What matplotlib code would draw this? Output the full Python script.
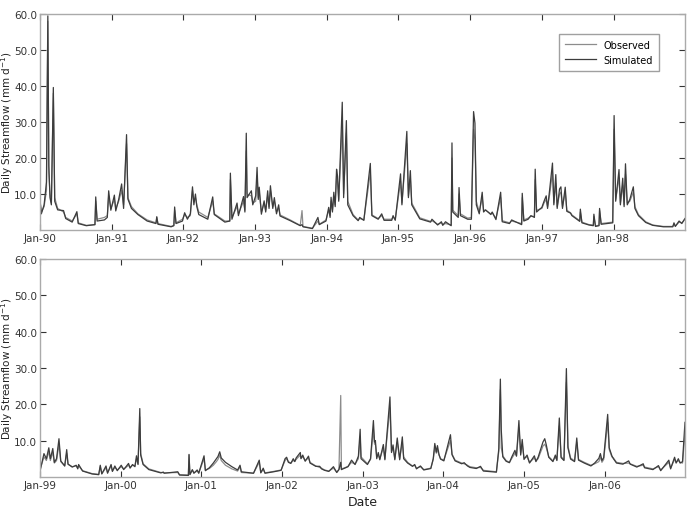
import pandas as pd
import matplotlib
matplotlib.use("Agg")
import matplotlib.pyplot as plt
import matplotlib.dates as mdates

# ---- 1990-1998 (upper panel) ----
top_dates = [
    "1990-01-01", "1990-01-08", "1990-01-22", "1990-02-03", "1990-02-10", "1990-02-15", "1990-02-21", "1990-02-28",
    "1990-03-10", "1990-03-17", "1990-04-01", "1990-05-01", "1990-05-12", "1990-06-14", "1990-07-08", "1990-07-15",
    "1990-08-25", "1990-10-08", "1990-10-12", "1990-10-19", "1990-11-25", "1990-12-10", "1990-12-17", "1990-12-28",
    "1991-01-15", "1991-01-22", "1991-02-06", "1991-02-21", "1991-03-03", "1991-03-18", "1991-03-25", "1991-04-12",
    "1991-05-15", "1991-07-01", "1991-08-15", "1991-08-19", "1991-08-25", "1991-10-31", "1991-11-14", "1991-11-18",
    "1991-11-25", "1991-12-28",
    "1992-01-08", "1992-01-22", "1992-02-06", "1992-02-17", "1992-02-24", "1992-03-03", "1992-03-10", "1992-03-20",
    "1992-05-05", "1992-05-30", "1992-06-07", "1992-07-31", "1992-08-25", "1992-08-28", "1992-09-05", "1992-10-01",
    "1992-10-08", "1992-11-03", "1992-11-10", "1992-11-17", "1992-11-21", "1992-12-13", "1992-12-20",
    "1993-01-04", "1993-01-11", "1993-01-17", "1993-01-22", "1993-02-02", "1993-02-16", "1993-02-24", "1993-03-06",
    "1993-03-13", "1993-03-20", "1993-04-01", "1993-04-09", "1993-04-20", "1993-05-01", "1993-05-08", "1993-06-29",
    "1993-08-19", "1993-08-28", "1993-09-02", "1993-10-20", "1993-11-17", "1993-11-24", "1993-12-28",
    "1994-01-11", "1994-01-18", "1994-01-23", "1994-01-30", "1994-02-06", "1994-02-13", "1994-02-20", "1994-02-25",
    "1994-03-03", "1994-03-21", "1994-03-28", "1994-04-11", "1994-04-18", "1994-05-15", "1994-06-10", "1994-06-18",
    "1994-07-09", "1994-08-11", "1994-08-19", "1994-09-20", "1994-10-08", "1994-10-20", "1994-11-28", "1994-12-05",
    "1994-12-16",
    "1995-01-12", "1995-01-19", "1995-02-13", "1995-02-21", "1995-03-03", "1995-03-10", "1995-04-20", "1995-06-14",
    "1995-06-21", "1995-07-20", "1995-08-08", "1995-08-15", "1995-08-29", "1995-09-27", "1995-10-01", "1995-10-05",
    "1995-11-02", "1995-11-06", "1995-11-13", "1995-12-20",
    "1996-01-08", "1996-01-12", "1996-01-19", "1996-01-26", "1996-02-02", "1996-02-17", "1996-03-03", "1996-03-10",
    "1996-03-20", "1996-04-16", "1996-04-23", "1996-05-12", "1996-06-05", "1996-06-13", "1996-07-20", "1996-07-31",
    "1996-09-20", "1996-09-23", "1996-10-01", "1996-10-23", "1996-11-06", "1996-11-24", "1996-11-28", "1996-12-05",
    "1997-01-01", "1997-01-12", "1997-01-23", "1997-01-30", "1997-02-10", "1997-02-24", "1997-03-03", "1997-03-13",
    "1997-03-20", "1997-04-01", "1997-04-08", "1997-04-16", "1997-04-30", "1997-05-08", "1997-05-27", "1997-06-03",
    "1997-07-13", "1997-07-16", "1997-07-24", "1997-08-29", "1997-09-20", "1997-09-23", "1997-10-01", "1997-10-19",
    "1997-10-22", "1997-10-30", "1997-12-28",
    "1998-01-04", "1998-01-12", "1998-01-29", "1998-02-05", "1998-02-17", "1998-02-24", "1998-03-03", "1998-03-12",
    "1998-03-25", "1998-04-12", "1998-04-20", "1998-05-08", "1998-06-14", "1998-07-20", "1998-09-12", "1998-10-30",
    "1998-11-05", "1998-11-12", "1998-12-01", "1998-12-15", "1998-12-31",
]
top_sim = [
    8.5, 4.5, 7, 13.3, 59.5, 17.9, 9, 7, 39.6, 8, 5.6, 5.4, 3.2, 2.2, 5.1, 1.8,
    1.2, 1.5, 9.2, 2.5, 2.8, 3.5, 10.9, 5.5,
    9.7, 5.3, 8.5, 12.8, 6, 26.5, 8.6, 6, 4.3, 2.5, 1.8, 3.7, 1.6, 0.9, 1.2, 6.4, 1.8, 2.5,
    4.8, 3, 4.5, 12, 7, 10, 6.5, 4.3, 3, 9.2, 4.3, 2.2, 2.5, 15.8, 3, 7.5, 4, 9.3, 5, 26.9, 9, 10.9, 7,
    9.5, 17.4, 8.5, 11.9, 4.4, 8.1, 5, 10.9, 6, 12.3, 6, 9, 4.5, 7, 3.9, 2.6, 1.2, 1.5, 0.9, 0.4, 3.5, 1.5, 2.5,
    6.3, 3.5, 9.1, 5, 10.5, 6.5, 16.9, 15, 8, 35.5, 9, 30.4, 7, 4, 2.6, 3.5, 2.7, 18.5, 4, 3, 4.5, 2.7, 2.7, 4, 2.7,
    15.6, 7, 27.4, 9, 16.5, 7, 3.1, 2.2, 3, 1.4, 2.3, 1.3, 2.3, 1.2, 24.2, 5, 3.5, 11.8, 4, 3,
    3, 14.2, 32.9, 29.7, 7, 4.5, 10.5, 5, 5.6, 4.3, 5, 2.9, 10.5, 2.3, 1.8, 2.8, 1.5, 10.2, 2.5, 3, 4, 3.5, 16.9, 5,
    6.3, 8, 9.5, 6, 11.4, 18.6, 7, 15.4, 6, 11.4, 12, 6, 11.9, 5.2, 4.7, 4, 2.4, 5.8, 2, 1.4, 1.2, 4.4, 1, 1.2,
    6, 1.6, 2,
    31.8, 8, 16.8, 7, 14.4, 6.5, 18.4, 7, 8.5, 12, 6, 4, 2.1, 1.3, 0.9, 0.9, 2, 1, 2.5, 1.8, 3.2,
]
top_obs = [
    8, 5, 6.5, 11, 58, 16, 10, 7.5, 38, 9, 6, 5, 3.5, 2.5, 4.5, 2,
    1.3, 1.5, 8, 3, 3.5, 4, 9.5, 6,
    8.5, 6, 8, 11, 7, 24, 9, 6.5, 4.5, 2.8, 2, 3.5, 1.8, 1, 1.3, 5.5, 2, 3,
    4.3, 3.5, 4, 11, 8, 9, 7, 5, 3.5, 8, 4.5, 2.5, 2.5, 14, 3.5, 6.5, 4.5, 8, 5.5, 22, 10, 9.5, 7.5,
    8, 15, 9, 10.5, 5, 7.5, 5.5, 9.5, 6.5, 11, 6.5, 8, 5, 6, 4.2, 2.8, 1.3, 5.4, 1, 0.5, 2.5, 1.6, 2.8,
    5.5, 4, 8, 5.5, 9.5, 7, 15, 13, 8.5, 30, 10, 27, 8, 4.3, 2.8, 3.2, 2.8, 16, 4.2, 3.2, 4, 3, 3, 3.6, 3,
    13.5, 7.5, 24, 9.5, 14, 7.5, 3.4, 2.4, 2.6, 1.6, 2, 1.5, 1.8, 1.4, 20, 5.5, 4, 10, 4.5, 3.3,
    3.5, 12, 28, 25, 8, 5, 9, 5.5, 5.5, 4.5, 4.8, 3.2, 9, 2.6, 2, 2.5, 1.8, 9, 2.8, 3.3, 3.8, 3.8, 14, 5.5,
    6, 7.5, 8.5, 6.5, 10, 16, 7.5, 13, 6.5, 10, 10.5, 6.5, 10.5, 5.5, 4.8, 4.2, 2.6, 5, 2.2, 1.5, 1.4, 3.8, 1.2, 1.3,
    5.4, 1.8, 2.2,
    28, 8.5, 14.5, 7.5, 12.5, 7, 15.5, 7.5, 8, 10.5, 6.5, 4.3, 2.3, 1.4, 1, 1, 1.6, 1.1, 2.2, 2, 3,
]

# ---- 1999-2006 (lower panel) ----
bot_dates = [
    "1999-01-01", "1999-01-19", "1999-01-30", "1999-02-10", "1999-02-17", "1999-02-28", "1999-03-07", "1999-03-17",
    "1999-03-28", "1999-04-05", "1999-04-23", "1999-05-02", "1999-05-08", "1999-05-27", "1999-06-14", "1999-06-21",
    "1999-06-25", "1999-07-13", "1999-08-25", "1999-09-24", "1999-10-01", "1999-10-08", "1999-10-27", "1999-11-03",
    "1999-11-19", "1999-11-25", "1999-12-06", "1999-12-17",
    "2000-01-04", "2000-01-15", "2000-01-23", "2000-02-06", "2000-02-13", "2000-02-24", "2000-03-06", "2000-03-13",
    "2000-03-20", "2000-03-28", "2000-04-01", "2000-04-12", "2000-05-08", "2000-07-01", "2000-07-13", "2000-07-16",
    "2000-09-16", "2000-09-24", "2000-11-03", "2000-11-06", "2000-11-10", "2000-11-21", "2000-11-28", "2000-12-13",
    "2000-12-20",
    "2001-01-13", "2001-01-19", "2001-02-06", "2001-02-24", "2001-03-10", "2001-03-17", "2001-03-25", "2001-04-01",
    "2001-04-20", "2001-05-19", "2001-06-14", "2001-06-25", "2001-07-01", "2001-08-25", "2001-09-20", "2001-09-27",
    "2001-10-08", "2001-10-16", "2001-11-24", "2001-12-28",
    "2002-01-15", "2002-01-22", "2002-01-30", "2002-02-10", "2002-02-21", "2002-02-28", "2002-03-06", "2002-03-25",
    "2002-03-28", "2002-04-05", "2002-04-16", "2002-05-01", "2002-05-08", "2002-06-03", "2002-06-21", "2002-06-29",
    "2002-07-13", "2002-08-01", "2002-08-22", "2002-09-06", "2002-09-16", "2002-09-24", "2002-09-27", "2002-10-12",
    "2002-10-27", "2002-11-12", "2002-11-28", "2002-12-13", "2002-12-21", "2002-12-25",
    "2003-01-23", "2003-02-06", "2003-02-19", "2003-02-24", "2003-02-28", "2003-03-06", "2003-03-13", "2003-03-20",
    "2003-04-05", "2003-04-12", "2003-05-05", "2003-05-12", "2003-05-19", "2003-05-27", "2003-06-07", "2003-06-18",
    "2003-06-30", "2003-07-06", "2003-07-24", "2003-08-15", "2003-08-25", "2003-09-02", "2003-09-20", "2003-10-05",
    "2003-11-06", "2003-11-17", "2003-11-24", "2003-12-01", "2003-12-06", "2003-12-13", "2003-12-20",
    "2004-01-04", "2004-02-03", "2004-02-10", "2004-02-24", "2004-03-25", "2004-04-05", "2004-04-20", "2004-05-01",
    "2004-05-30", "2004-06-18", "2004-07-01", "2004-08-29", "2004-09-09", "2004-09-16", "2004-09-20", "2004-09-27",
    "2004-10-12", "2004-10-27", "2004-11-06", "2004-11-21", "2004-11-28", "2004-12-09", "2004-12-17", "2004-12-24",
    "2005-01-01", "2005-01-15", "2005-01-26", "2005-02-17", "2005-02-24", "2005-03-06", "2005-03-28", "2005-04-05",
    "2005-04-12", "2005-04-23", "2005-05-12", "2005-05-23", "2005-05-30", "2005-06-10", "2005-06-18", "2005-07-01",
    "2005-07-12", "2005-07-19", "2005-07-31", "2005-08-18", "2005-08-28", "2005-09-05", "2005-10-01", "2005-10-31",
    "2005-11-17", "2005-12-06", "2005-12-13", "2005-12-20", "2005-12-28",
    "2006-01-15", "2006-01-22", "2006-02-03", "2006-02-10", "2006-02-24", "2006-03-25", "2006-04-20", "2006-04-27",
    "2006-05-27", "2006-06-25", "2006-07-01", "2006-08-08", "2006-09-02", "2006-09-12", "2006-10-19", "2006-10-27",
    "2006-11-14", "2006-11-21", "2006-12-01", "2006-12-09", "2006-12-20", "2006-12-31",
]
bot_sim = [
    1.5, 6.4, 5, 8, 5, 7.8, 4, 5, 10.5, 4.4, 3, 7.5, 3.5, 2.7, 3.2, 2.2, 3.4, 1.6, 0.8, 0.6, 3.2, 0.8, 3, 1,
    3.4, 1.5, 3, 1.7,
    3.2, 2, 2.6, 3.7, 2.4, 3.4, 2.8, 5.8, 3.4, 18.8, 6, 3.4, 2, 1.1, 1.3, 1, 1.4, 0.5, 0.4, 6.1, 0.6, 2, 1, 1.9, 1,
    5.8, 1.7, 2.5, 3.8, 5, 5.6, 6.9, 5.2, 4, 2.8, 1.9, 3.2, 1.4, 1, 4.6, 1.1, 2.4, 1, 1.4, 1.8,
    5, 5.4, 4, 3.7, 5, 4.2, 5.2, 6.7, 5, 6, 4.3, 5.7, 3.8, 2.9, 2.9, 2.2, 1.8, 1.5, 2.8, 1.2, 2, 4, 2, 2.4,
    2.8, 4.6, 3.4, 5.7, 13.1, 5,
    3.4, 5, 15.5, 9.6, 10, 5, 6.7, 4.7, 8.9, 4.7, 22, 6.7, 8.8, 4.7, 10.7, 4.7, 11, 5, 3.8, 2.9, 3.4, 2.2, 3, 1.9,
    2.3, 5, 9.2, 6.8, 8.6, 6.2, 4.9,
    4.4, 11.6, 6.1, 4.4, 3.6, 3.9, 3, 2.6, 2.3, 2.9, 1.6, 1.3, 7.8, 26.9, 13, 5.5, 4.3, 3.9, 5.4, 7.3, 5.7, 15.5,
    6, 10.3,
    4.8, 6, 3.8, 5.8, 4.2, 5.4, 9.6, 10.5, 8.8, 5.4, 4.2, 6, 4.5, 16.2, 5.3, 4.5, 29.8, 8, 4.9, 4.2, 10.7, 4.6,
    3.8, 3, 3.8, 5.1, 6.4, 4.5, 5.3,
    17.2, 8, 5.8, 5, 3.8, 3.5, 4.4, 3.5, 2.7, 3.6, 2.5, 2, 3.1, 1.7, 4.6, 2.2, 5.4, 3.8, 5, 3.8, 4.2, 15,
]
bot_obs = [
    2, 5.5, 4.5, 7, 4.5, 6.8, 3.8, 4.5, 9, 4.2, 3, 6.5, 3.5, 2.8, 3, 2.4, 3, 1.7, 0.9, 0.7, 2.8, 0.9, 2.5, 1.2,
    3, 1.6, 2.6, 1.9,
    2.8, 2.2, 2.5, 3.2, 2.6, 3.2, 3, 5, 3.6, 16.5, 6.5, 3.6, 2.2, 1.2, 1.2, 1.1, 1.2, 0.6, 0.5, 6.2, 0.7, 1.8, 1.1,
    1.6, 1.1,
    5, 1.9, 2.3, 3.2, 4.2, 4.8, 6, 4.5, 3.2, 2.2, 1.6, 2.8, 1.2, 1, 4, 1.2, 2, 1.1, 1.5, 1.9,
    4.5, 5, 4.2, 3.8, 4.5, 4.3, 4.8, 6, 5.2, 5.5, 4.5, 5.2, 4, 3, 2.6, 2.4, 1.9, 1.6, 2.4, 1.3, 2.1, 22.4, 2.2,
    2.5, 2.9, 4, 3.5, 5, 11, 5.5,
    3.6, 4.8, 13, 9, 9, 5.5, 6, 5, 8, 5, 19, 7, 8, 5, 9.5, 5, 9.5, 5.5, 4, 3, 3.2, 2.4, 2.8, 2,
    2.4, 4.8, 8, 6.5, 7.5, 6, 5,
    4.6, 10, 6.3, 4.6, 3.8, 3.6, 3.2, 2.8, 2.5, 2.6, 1.8, 1.4, 7, 24, 8, 5.8, 4.5, 4, 5, 6.5, 5.8, 13.5, 6.5, 9,
    5.2, 5.5, 4, 5.2, 4.4, 5, 8.5, 9, 8, 5.6, 4.4, 5.4, 4.7, 14, 5.6, 4.7, 26, 8.5, 5.2, 4.4, 9.5, 4.8,
    4, 3.2, 3.6, 4.2, 5.5, 4, 4.8,
    15, 7.5, 5.5, 5.2, 4, 3.7, 3.8, 3.6, 2.9, 3.2, 2.7, 2.2, 2.8, 1.9, 4, 2.4, 4.8, 4, 4.5, 4, 3.8, 12,
]

assert len(top_dates) == len(top_sim) == len(top_obs), (len(top_dates), len(top_sim), len(top_obs))
assert len(bot_dates) == len(bot_sim) == len(bot_obs), (len(bot_dates), len(bot_sim), len(bot_obs))

obs_color = "#8c8c8c"
sim_color = "#3c3c3c"

fig = plt.figure(figsize=(6.93, 5.10), dpi=100)
ax1 = fig.add_axes([0.0577, 0.547, 0.9307, 0.4235])
ax2 = fig.add_axes([0.0577, 0.063, 0.9307, 0.4275])

panels = [
    (ax1, top_dates, top_obs, top_sim, "1990-01-01", "1998-12-31"),
    (ax2, bot_dates, bot_obs, bot_sim, "1999-01-01", "2006-12-31"),
]

for ax, dates, obs, sim, start, end in panels:
    d = pd.to_datetime(dates)
    ax.plot(d, obs, color=obs_color, lw=0.9, label="Observed")
    ax.plot(d, sim, color=sim_color, lw=0.9, label="Simulated")
    ax.set_xlim(pd.Timestamp(start), pd.Timestamp(end))
    ax.set_ylim(0, 60)
    ax.set_yticks([10, 20, 30, 40, 50, 60])
    ax.yaxis.set_major_formatter(matplotlib.ticker.FormatStrFormatter("%.1f"))
    ax.xaxis.set_major_locator(mdates.YearLocator())
    ax.xaxis.set_major_formatter(mdates.DateFormatter("%b-%y"))
    ax.tick_params(direction="in", top=True, right=True, length=4, width=0.8,
                   labelsize=7.5, colors="#333333", pad=2)
    for s in ax.spines.values():
        s.set_color("#aaaaaa")
        s.set_linewidth(1.0)
    ax.set_ylabel("Daily Streamflow (mm d$^{-1}$)", fontsize=7.5, color="#222222")
    ax.yaxis.set_label_coords(-0.0395, 0.5)

ax1.legend(loc="upper right", fontsize=7, frameon=True, fancybox=False,
           edgecolor="#888888", borderpad=0.6, handlelength=3.2,
           bbox_to_anchor=(0.967, 0.93))
ax2.set_xlabel("Date", fontsize=9, color="#222222", labelpad=4)

fig.savefig("out.png", dpi=100)
